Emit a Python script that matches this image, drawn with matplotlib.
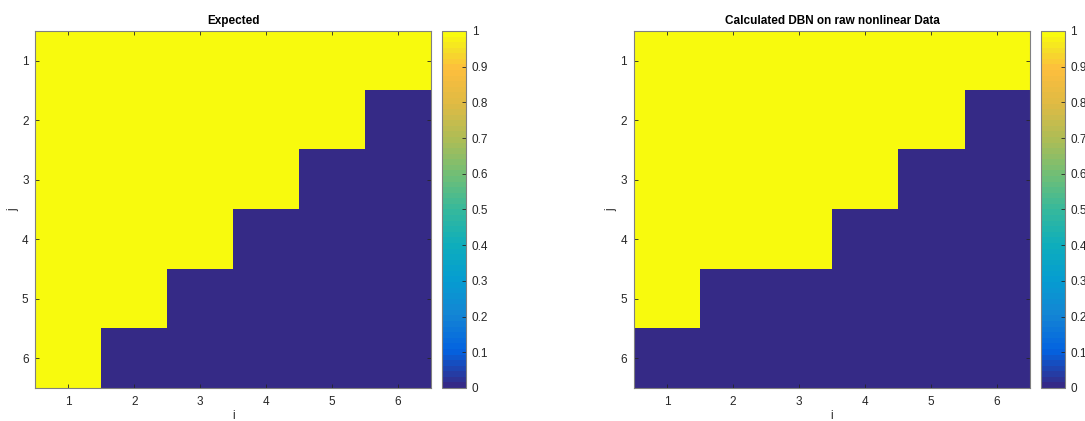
import numpy as np
import matplotlib.pyplot as plt
from matplotlib.colors import LinearSegmentedColormap

# 6x6 matrices, rows are j (top to bottom), columns are i
expected = [[1, 1, 1, 1, 1, 1],
            [1, 1, 1, 1, 1, 0],
            [1, 1, 1, 1, 0, 0],
            [1, 1, 1, 0, 0, 0],
            [1, 1, 0, 0, 0, 0],
            [1, 0, 0, 0, 0, 0]]

calculated = [[1, 1, 1, 1, 1, 1],
              [1, 1, 1, 1, 1, 0],
              [1, 1, 1, 1, 0, 0],
              [1, 1, 1, 0, 0, 0],
              [1, 0, 0, 0, 0, 0],
              [0, 0, 0, 0, 0, 0]]

titles = ['Expected', 'Calculated DBN on raw nonlinear Data']
ticks = [1, 2, 3, 4, 5, 6]
cbar_ticks = [0, 0.1, 0.2, 0.3, 0.4, 0.5, 0.6, 0.7, 0.8, 0.9, 1]

# rough parula colormap (matlab default)
parula_pts = [
    (0.00, (0.2081, 0.1663, 0.5292)),
    (0.10, (0.0117, 0.3875, 0.8820)),
    (0.20, (0.0780, 0.5220, 0.8310)),
    (0.30, (0.0210, 0.6150, 0.8180)),
    (0.40, (0.0570, 0.6800, 0.7360)),
    (0.50, (0.2140, 0.7250, 0.6080)),
    (0.60, (0.4450, 0.7460, 0.4590)),
    (0.70, (0.6780, 0.7400, 0.3370)),
    (0.80, (0.8730, 0.7300, 0.2670)),
    (0.90, (0.9930, 0.7460, 0.2390)),
    (0.95, (0.9600, 0.8650, 0.1600)),
    (1.00, (0.9763, 0.9831, 0.0538)),
]
parula = LinearSegmentedColormap.from_list('parula', parula_pts, N=64)

plt.rcParams['font.family'] = ['Liberation Sans', 'DejaVu Sans']
grey = '#262626'
edge = '#808080'

fig = plt.figure(figsize=(10.85, 4.21), dpi=100)

ax_pos = [[0.0327, 0.0784, 0.3645, 0.848], [0.5843, 0.0784, 0.365, 0.848]]
cb_pos = [[0.4074, 0.0784, 0.0221, 0.848], [0.9594, 0.0784, 0.0221, 0.848]]

for k, data in enumerate([expected, calculated]):
    ax = fig.add_axes(ax_pos[k])
    im = ax.imshow(np.array(data), cmap=parula, vmin=0, vmax=1, aspect='auto',
                   extent=[0.5, 6.5, 6.5, 0.5], interpolation='nearest')
    ax.set_xticks(ticks)
    ax.set_yticks(ticks)
    ax.tick_params(direction='in', top=True, right=True, length=3, width=0.6,
                   colors=grey, labelsize=8.5, labelcolor=grey)
    ax.tick_params(axis='x', pad=6)
    ax.tick_params(axis='y', pad=5)
    for s in ax.spines.values():
        s.set_color(edge)
        s.set_linewidth(0.8)
    ax.set_title(titles[k], fontsize=8.5, fontweight='bold', color='black', pad=5)
    ax.set_xlabel('i', fontsize=8.5, color=grey, labelpad=1)
    ax.set_ylabel('j', fontsize=8.5, color=grey, labelpad=2)

    cax = fig.add_axes(cb_pos[k])
    cb = fig.colorbar(im, cax=cax)
    cb.set_ticks(cbar_ticks)
    cb.set_ticklabels(['0', '0.1', '0.2', '0.3', '0.4', '0.5', '0.6', '0.7', '0.8', '0.9', '1'])
    cax.tick_params(direction='in', length=3, width=0.6, colors=grey,
                    labelsize=8.5, labelcolor=grey, pad=4)
    cb.outline.set_edgecolor(edge)
    cb.outline.set_linewidth(0.8)

fig.savefig('out.png', dpi=100)
